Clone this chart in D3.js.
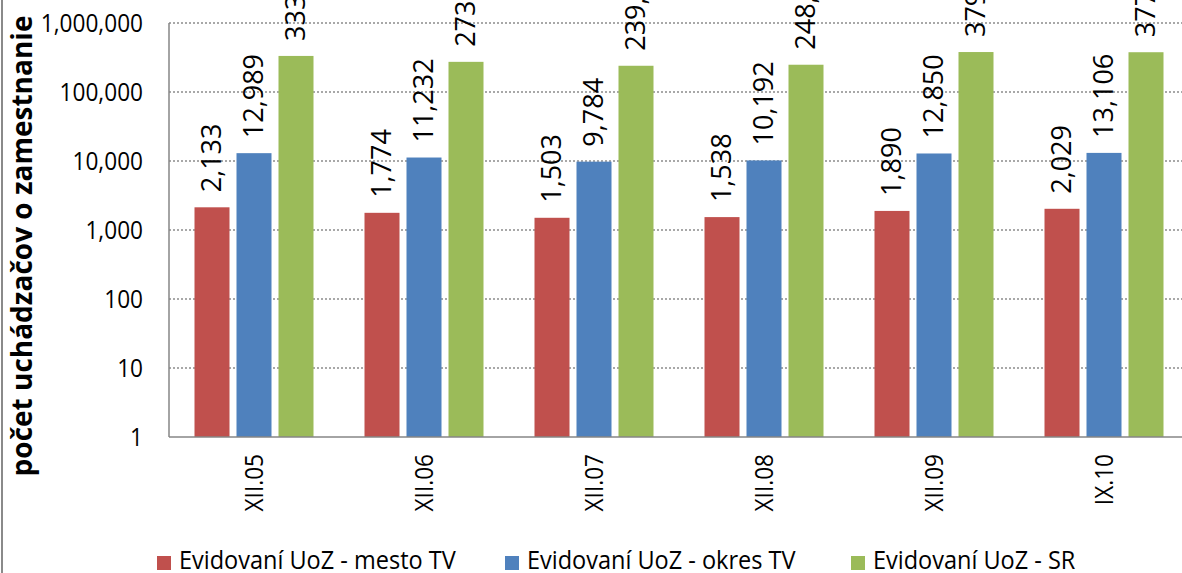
<!DOCTYPE html>
<html><head><meta charset="utf-8">
<script src="https://cdn.jsdelivr.net/npm/d3@7/dist/d3.min.js"></script>
<style>body{margin:0;background:#fff;overflow:hidden}</style>
</head><body><svg id="c" width="1182" height="573"></svg>
<script>
const categories = ["XII.05","XII.06","XII.07","XII.08","XII.09","IX.10"];
const seriesNames = ["Evidovaní UoZ - mesto TV","Evidovaní UoZ - okres TV","Evidovaní UoZ - SR"];
const mesto = [2133,1774,1503,1538,1890,2029];
const okres = [12989,11232,9784,10192,12850,13106];
const sr = [333218,273542,239984,248425,379401,377143];
const tickValues = [1,10,100,1000,10000,100000,1000000];
const colors = ["#C0504D","#4F81BD","#9BBB59"];
const yTitle = "počet uchádzačov o zamestnanie";

(function(){
const svg = d3.select("#c");
const FONT = "Open Sans, sans-serif";
const pL = 169, pT = 23, pB = 437;
const x0 = d3.scaleBand().domain(categories).range([169, 1189]);
const x1 = d3.scaleBand().domain(seriesNames).range([25.5, 144.5]).paddingInner(1/6);
const y = d3.scaleLog().domain([1, 1000000]).range([pB, pT]);
const color = d3.scaleOrdinal().domain(seriesNames).range(colors);
const data = [mesto, okres, sr];
function squeeze(sel, f){
  sel.each(function(){
    const L = this.getComputedTextLength();
    d3.select(this).attr("textLength", L*f).attr("lengthAdjust","spacingAndGlyphs");
  });
}

svg.append("line").attr("x1",2).attr("x2",2).attr("y1",0).attr("y2",573).attr("stroke","#8a8a8a").attr("stroke-width",2);

svg.append("g").selectAll("line").data(tickValues.filter(v=>v>1)).join("line")
  .attr("x1",pL).attr("x2",1182).attr("y1",d=>y(d)).attr("y2",d=>y(d))
  .attr("stroke","#8c8c8c").attr("stroke-width",1.3).attr("stroke-dasharray","2,2");

const yAxis = d3.axisLeft(y).tickValues(tickValues).tickFormat(d3.format(",")).tickSize(0).tickPadding(26);
const ya = svg.append("g").attr("transform",`translate(${pL},0)`).call(yAxis);
ya.select(".domain").remove();
ya.selectAll("text").attr("font-family",FONT).attr("font-size",26).attr("fill","#000").call(squeeze,0.87);

const g = svg.append("g");
seriesNames.forEach((s,si)=>{
  g.selectAll(".b"+si).data(categories).join("rect").attr("class","b"+si)
    .attr("x",c=>x0(c)+x1(s)).attr("width",x1.bandwidth())
    .attr("y",(c,i)=>y(data[si][i])).attr("height",(c,i)=>pB-y(data[si][i]))
    .attr("fill",color(s));
  g.selectAll(".l"+si).data(categories).join("text").attr("class","l"+si)
    .attr("transform",(c,i)=>`translate(${x0(c)+x1(s)+x1.bandwidth()/2},${y(data[si][i])-15}) rotate(-90)`)
    .attr("dy","0.35em").attr("text-anchor","start")
    .attr("font-family",FONT).attr("font-size",27).attr("fill","#000")
    .text((c,i)=>d3.format(",")(data[si][i]));
});

svg.append("line").attr("x1",pL).attr("x2",pL).attr("y1",pT).attr("y2",pB).attr("stroke","#868686").attr("stroke-width",1.5);
svg.append("line").attr("x1",pL).attr("x2",1182).attr("y1",pB).attr("y2",pB).attr("stroke","#868686").attr("stroke-width",1.5);

const xAxis = d3.axisBottom(x0).tickSize(0);
const xa = svg.append("g").attr("transform",`translate(0,${pB})`).call(xAxis);
xa.select(".domain").remove();
xa.selectAll("text").attr("transform","translate(0,17) rotate(-90)").attr("text-anchor","end")
  .attr("x",0).attr("y",0).attr("dy","0.35em")
  .attr("font-family",FONT).attr("font-size",26).attr("fill","#000").call(squeeze,0.87);

svg.append("text").attr("transform",`translate(22,246) rotate(-90)`).attr("text-anchor","middle").attr("dy","0.35em")
  .attr("font-family",FONT).attr("font-weight","bold").attr("font-size",28).text(yTitle);

const lx = [157, 505, 851];
const lg = svg.append("g");
seriesNames.forEach((s,i)=>{
  lg.append("rect").attr("x",lx[i]).attr("y",556).attr("width",14).attr("height",14).attr("fill",color(s));
  lg.append("text").attr("x",lx[i]+22).attr("y",569)
    .attr("font-family",FONT).attr("font-size",25).attr("fill","#000").text(s).call(squeeze,0.94);
});
})();
</script></body></html>
